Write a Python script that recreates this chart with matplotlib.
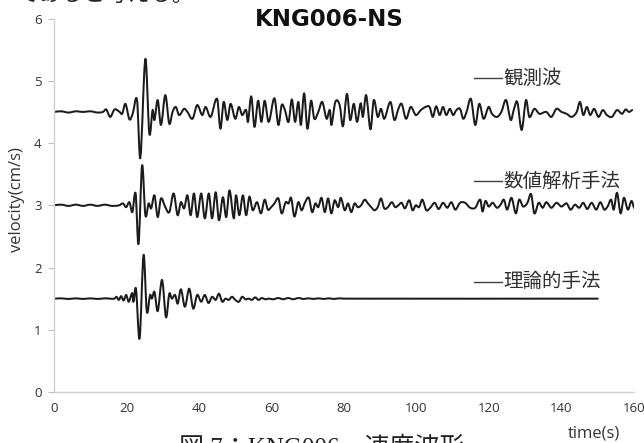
import matplotlib
matplotlib.use("Agg")
import matplotlib.pyplot as plt
from matplotlib.path import Path
from matplotlib.patches import PathPatch

# ---- observed record (offset 4.5) ----
t_obs = [0, 2, 4, 6, 8, 10, 12, 13.5, 14.4, 15.5, 16.7, 18.1, 18.8, 19.7, 20.8, 21.7, 22.9, 23.8,
         25.2, 26.3, 27.2, 27.7, 28.6, 29.5, 30.7, 31.8, 32.7, 33.6, 34.5, 35.9, 36.8, 38.2, 39.5,
         40.9, 41.8, 43.2, 45.0, 45.9, 46.8, 47.8, 48.7, 50.0, 51.0, 51.9, 53.0, 53.5, 54.4, 55.3,
         56.3, 57.2, 58.1, 59.2, 60.8, 61.9, 62.8, 63.7, 64.7, 65.6, 66.5, 67.4, 68.1, 69.0, 69.9,
         70.9, 71.8, 72.9, 74.0, 75.2, 76.1, 76.5, 77.6, 78.8, 79.7, 80.8, 81.7, 82.7, 83.6, 84.6,
         85.2, 86.1, 87.3, 88.2, 89.3, 90.2, 91.1, 92.8, 93.9, 95.0, 95.9, 97.1, 98.4, 99.8, 101.2,
         102.5, 103.6, 104.5, 105.4, 106.4, 107.3, 108.2, 109.2, 110.1, 111.0, 112.0, 112.9, 113.8,
         115.0, 116.2, 117.3, 118.5, 119.9, 120.8, 122.2, 123.4, 124.7, 126.0, 126.9, 127.8, 129.0,
         130.2, 131.1, 132.5, 133.9, 135.8, 137.2, 138.6, 140.0, 141.4, 142.8, 144.2, 145.1, 146.0,
         147.0, 147.9, 149.0, 150.2, 151.4, 152.5, 153.9, 155.3, 156.7, 157.7, 158.6, 159.5]
v_obs = [4.50, 4.51, 4.49, 4.51, 4.50, 4.51, 4.49, 4.50, 4.54, 4.42, 4.54, 4.50, 4.47, 4.63, 4.38,
         4.47, 4.69, 3.76, 5.35, 4.15, 4.53, 4.37, 4.69, 4.29, 4.77, 4.31, 4.50, 4.58, 4.45, 4.55,
         4.50, 4.39, 4.61, 4.45, 4.58, 4.42, 4.71, 4.23, 4.66, 4.37, 4.63, 4.39, 4.58, 4.45, 4.53,
         4.34, 4.75, 4.26, 4.68, 4.34, 4.68, 4.34, 4.72, 4.29, 4.61, 4.53, 4.34, 4.70, 4.34, 4.66,
         4.29, 4.80, 4.23, 4.68, 4.39, 4.50, 4.66, 4.39, 4.53, 4.29, 4.66, 4.61, 4.27, 4.79, 4.37,
         4.63, 4.34, 4.64, 4.42, 4.77, 4.22, 4.69, 4.42, 4.55, 4.39, 4.66, 4.37, 4.55, 4.63, 4.39,
         4.58, 4.45, 4.53, 4.58, 4.58, 4.42, 4.59, 4.45, 4.58, 4.45, 4.55, 4.45, 4.53, 4.55, 4.39,
         4.50, 4.71, 4.29, 4.63, 4.39, 4.58, 4.47, 4.42, 4.50, 4.69, 4.37, 4.55, 4.66, 4.21, 4.69,
         4.42, 4.55, 4.47, 4.50, 4.42, 4.55, 4.50, 4.47, 4.42, 4.50, 4.66, 4.45, 4.58, 4.45, 4.55,
         4.42, 4.53, 4.45, 4.42, 4.53, 4.47, 4.54, 4.50, 4.53]

# ---- numerical analysis (offset 3.0) ----
t_num = [0, 2, 4, 6, 8, 10, 12, 14, 16, 18, 19.0, 19.9, 20.8, 21.6, 22.5, 23.3, 24.3, 25.2, 26.1,
         26.8, 27.7, 28.6, 29.5, 30.7, 31.8, 33.0, 34.1, 35.0, 35.9, 36.8, 37.7, 38.6, 39.5, 40.6,
         41.6, 42.7, 43.6, 44.6, 45.5, 46.6, 47.5, 48.4, 49.6, 50.2, 51.1, 52.1, 53.0, 53.9, 54.8,
         56.0, 57.1, 58.1, 59.0, 59.9, 60.8, 61.9, 62.8, 63.9, 64.7, 65.4, 66.3, 67.4, 68.3, 69.2,
         70.3, 71.2, 72.1, 72.9, 73.8, 74.7, 75.6, 76.5, 77.4, 78.4, 79.1, 80.2, 81.1, 82.0, 82.9,
         83.8, 84.7, 85.7, 86.6, 87.5, 88.4, 89.3, 90.2, 91.1, 92.1, 93.2, 94.1, 95.0, 95.9, 96.8,
         98.0, 98.9, 99.8, 100.7, 101.6, 102.7, 103.8, 105.0, 106.1, 107.3, 108.5, 109.6, 110.7,
         112.0, 113.4, 114.8, 116.2, 117.6, 118.2, 119.0, 119.9, 121.0, 122.2, 123.2, 124.1, 125.0,
         126.2, 127.4, 128.3, 129.4, 130.6, 131.6, 132.5, 133.7, 134.8, 135.8, 137.2, 138.6, 140.0,
         141.4, 142.5, 143.7, 144.9, 146.0, 147.1, 148.3, 149.6, 150.7, 151.8, 152.7, 153.7, 154.4,
         155.3, 156.3, 157.2, 158.3, 159.3, 160.0]
v_num = [3.00, 3.01, 2.99, 3.01, 2.99, 3.01, 2.99, 3.01, 2.99, 3.00, 3.03, 2.97, 3.05, 2.89, 3.19,
         2.38, 3.64, 2.84, 3.03, 2.95, 3.16, 2.81, 3.11, 2.97, 2.89, 3.19, 2.84, 3.05, 2.95, 3.16,
         2.84, 3.19, 2.81, 3.19, 2.79, 3.19, 2.79, 3.21, 2.76, 3.13, 2.81, 3.24, 2.79, 3.16, 2.84,
         3.16, 2.84, 3.14, 2.92, 3.05, 2.87, 3.09, 2.93, 2.97, 3.03, 3.11, 2.87, 3.05, 3.03, 3.12,
         2.82, 3.05, 2.92, 3.04, 3.12, 2.89, 3.03, 2.97, 3.12, 2.89, 3.11, 2.87, 3.08, 2.97, 3.12,
         2.92, 3.03, 2.89, 3.03, 2.97, 3.00, 3.09, 3.03, 2.97, 2.92, 2.97, 3.11, 2.95, 2.97, 3.05,
         2.97, 3.00, 3.04, 2.95, 3.08, 2.92, 3.00, 2.97, 3.09, 2.92, 2.96, 3.04, 2.94, 3.04, 2.96,
         3.05, 2.93, 3.04, 3.04, 2.96, 2.96, 3.09, 2.90, 3.07, 2.98, 3.04, 2.96, 3.01, 3.09, 2.93,
         3.12, 2.87, 3.09, 2.98, 3.04, 3.18, 2.87, 3.04, 2.96, 3.05, 2.96, 3.04, 2.98, 3.03, 2.93,
         3.01, 2.96, 3.04, 2.94, 3.04, 2.93, 3.05, 2.93, 2.98, 3.09, 2.93, 3.20, 2.87, 3.12, 2.93,
         3.07, 2.96]

# ---- theoretical method (offset 1.5) ----
t_thr = [0, 2, 4, 6, 8, 10, 12, 14, 16.7, 17.2, 17.9, 18.5, 19.2, 19.9, 20.6, 21.6, 21.9, 22.6,
         23.6, 24.7, 25.6, 26.5, 27.0, 27.7, 28.6, 29.8, 30.9, 31.8, 32.5, 33.4, 34.1, 35.0, 36.1,
         37.3, 38.4, 39.5, 40.6, 41.6, 42.6, 43.6, 44.6, 45.5, 46.4, 47.3, 48.2, 49.1, 50.0, 51.0,
         51.9, 52.8, 53.7, 54.6, 55.5, 56.4, 57.3, 58.3, 59.2, 60.5, 61.9, 63.2, 64.6, 66.0, 67.4,
         68.8, 70.2, 71.6, 73.0, 74.4, 75.8, 77.2, 78.6, 80.0, 150.0]
v_thr = [1.50, 1.505, 1.495, 1.505, 1.495, 1.505, 1.495, 1.505, 1.50, 1.53, 1.48, 1.54, 1.47, 1.56,
         1.45, 1.59, 1.45, 1.66, 0.86, 2.20, 1.29, 1.56, 1.50, 1.61, 1.30, 1.80, 1.20, 1.58, 1.50,
         1.56, 1.42, 1.65, 1.37, 1.66, 1.34, 1.56, 1.45, 1.56, 1.43, 1.53, 1.48, 1.58, 1.45, 1.50,
         1.48, 1.53, 1.48, 1.45, 1.53, 1.49, 1.50, 1.48, 1.52, 1.48, 1.51, 1.49, 1.50, 1.49, 1.51,
         1.49, 1.51, 1.49, 1.51, 1.495, 1.505, 1.495, 1.505, 1.495, 1.505, 1.495, 1.505, 1.50, 1.50]

series_names = ["観測波", "数値解析手法", "理論的手法"]
label_levels = [5.04, 3.39, 1.77]

x_ticks = [0, 20, 40, 60, 80, 100, 120, 140, 160]
y_ticks = [0, 1, 2, 3, 4, 5, 6]

LATIN = "Open Sans"
CJK = "Noto Sans CJK JP"
plt.rcParams["font.family"] = [LATIN, CJK, "DejaVu Sans"]


def smooth_line(ax, xs, ys, **kw):
    """Smoothed line: cubic Hermite segments with finite-difference slopes,
    control points kept inside each segment's time span."""
    n = len(xs)
    slopes = []
    for i in range(n):
        a = max(i - 1, 0)
        b = min(i + 1, n - 1)
        slopes.append((ys[b] - ys[a]) / (xs[b] - xs[a]))
    verts = [(xs[0], ys[0])]
    codes = [Path.MOVETO]
    for i in range(n - 1):
        h = (xs[i + 1] - xs[i]) / 3.0
        verts += [(xs[i] + h, ys[i] + slopes[i] * h),
                  (xs[i + 1] - h, ys[i + 1] - slopes[i + 1] * h),
                  (xs[i + 1], ys[i + 1])]
        codes += [Path.CURVE4] * 3
    patch = PathPatch(Path(verts, codes), fill=False, **kw)
    ax.add_patch(patch)
    return patch


fig = plt.figure(figsize=(6.44, 4.43), dpi=100)
ax = fig.add_axes([0.0839, 0.1151, 0.9006, 0.843])

line_kw = dict(edgecolor="#1c1c1c", lw=1.45, joinstyle="round", capstyle="round")
smooth_line(ax, t_obs, v_obs, **line_kw)
smooth_line(ax, t_num, v_num, **line_kw)
smooth_line(ax, t_thr, v_thr, **line_kw)

ax.set_xlim(0, 160)
ax.set_ylim(0, 6)
ax.set_xticks(x_ticks)
ax.set_yticks(y_ticks)
ax.tick_params(axis="both", labelsize=9.5, colors="#bfbfbf", labelcolor="#333333",
               length=4, width=0.8)
ax.tick_params(axis="y", pad=5)
ax.tick_params(axis="x", length=0, pad=7)
for side in ("top", "right"):
    ax.spines[side].set_visible(False)
for side in ("left", "bottom"):
    ax.spines[side].set_color("#d0d0d0")
    ax.spines[side].set_linewidth(1.0)

# series captions with a short leader line
for name, lev in zip(series_names, label_levels):
    ax.plot([115.8, 123.6], [lev, lev], color="#404040", lw=1.0)
    ax.text(123.9, lev, name, fontsize=14, color="#303030", va="center", ha="left",
            family=[CJK])

fig.text(329 / 644, 1 - 20 / 443, "KNG006-NS", fontsize=16.5, fontweight="bold",
         ha="center", va="center", color="#111111", family=["DejaVu Sans"])
fig.text(17 / 644, 1 - 200 / 443, "velocity(cm/s)", fontsize=12, color="#333333",
         ha="center", va="center", rotation=90)
fig.text(594 / 644, 1 - 434 / 443, "time(s)", fontsize=12, color="#333333",
         ha="center", va="center")

# surrounding document text (report caption and preceding sentence)
fig.text(0.50, -0.011, "図 7：KNG006　速度波形", fontsize=18, ha="center", va="center",
         color="#222222", family=["Liberation Serif", CJK])
fig.text(0.026, 1.012, "であると考える。", fontsize=16, ha="left", va="center",
         color="#222222", family=[CJK])

fig.savefig("out.png", dpi=100)
